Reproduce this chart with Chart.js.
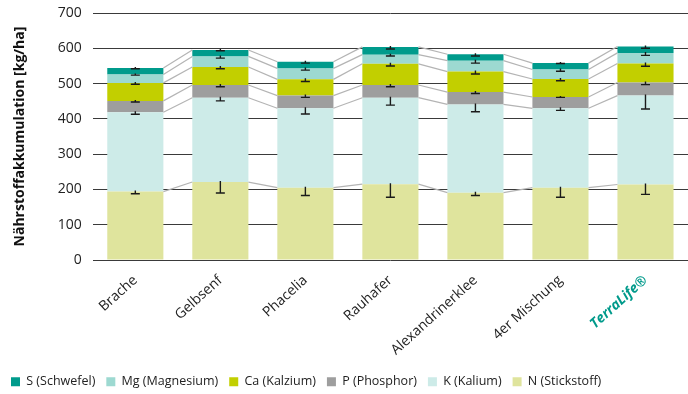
<!DOCTYPE html>
<html>
<head>
<meta charset="utf-8">
<script src="https://cdn.jsdelivr.net/npm/chart.js@4"></script>
<style>
  html, body { margin: 0; padding: 0; background: #fff; }
  #wrap { width: 688px; height: 394px; }
</style>
</head>
<body>
<div id="wrap"><canvas id="myChart" width="688" height="394"></canvas></div>
<script>
const chart = document.getElementById("myChart");

const varianten = ["Brache", "Gelbsenf", "Phacelia", "Rauhafer", "Alexandrinerklee", "4er Mischung", "TerraLife®"];

// kg/ha je Naehrstoff (Segmente, von unten nach oben)
const stickstoff = [194, 221, 205, 215, 191, 205, 214];
const kalium     = [225, 239, 225, 245, 250, 225, 252];
const phosphor   = [32, 36, 36, 36, 35, 32, 37];
const kalzium    = [51, 51, 46, 60, 58, 51, 54];
const magnesium  = [24, 30, 31, 26, 31, 27, 30];
const schwefel   = [18, 18, 19, 22, 18, 18, 18];

// Standardabweichung (nur nach unten gezeichnet)
const fehlerN  = [6, 31, 22, 37, 8, 27, 28];
const fehlerK  = [6, 9, 16, 21, 21, 6, 38];
const fehlerP  = [3, 5, 5, 5, 4, 1, 6];
const fehlerCa = [4, 5, 6, 6, 7, 5, 8];
const fehlerMg = [2, 5, 5, 4, 7, 5, 7];
const fehlerS  = [2, 2, 4, 6, 5, 1, 5];

const yTicks = [0, 100, 200, 300, 400, 500, 600, 700];

const schrift = "'Open Sans', sans-serif";
const teal = "#009a8b";

// Verbindungslinien + Fehlerbalken
const extras = {
  id: "extras",
  afterDatasetsDraw(c) {
    const ctx = c.ctx;
    const y = c.scales.y;
    const n = c.data.labels.length;
    ctx.save();
    ctx.strokeStyle = "#b4b4b4";
    ctx.lineWidth = 1.2;
    c.data.datasets.forEach((ds, di) => {
      const meta = c.getDatasetMeta(di);
      for (let i = 0; i < n - 1; i++) {
        const a = meta.data[i], b = meta.data[i + 1];
        ctx.beginPath();
        ctx.moveTo(a.x + a.width / 2, a.y);
        ctx.lineTo(b.x - b.width / 2, b.y);
        ctx.stroke();
      }
    });
    ctx.strokeStyle = "#1a1a1a";
    ctx.lineWidth = 1.4;
    c.data.datasets.forEach((ds, di) => {
      const meta = c.getDatasetMeta(di);
      meta.data.forEach((bar, i) => {
        const err = ds.fehler[i];
        const top = bar.y;
        const low = top + (y.getPixelForValue(0) - y.getPixelForValue(err));
        ctx.beginPath();
        ctx.moveTo(bar.x, top - 1);
        ctx.lineTo(bar.x, low);
        ctx.moveTo(bar.x - 4.5, low);
        ctx.lineTo(bar.x + 4.5, low);
        ctx.stroke();
      });
    });
    ctx.restore();
  },
};

new Chart(chart, {
  type: "bar",
  data: {
    labels: varianten,
    datasets: [
      { label: "N (Stickstoff)", data: stickstoff, fehler: fehlerN, backgroundColor: "#dfe49d" },
      { label: "K (Kalium)", data: kalium, fehler: fehlerK, backgroundColor: "#cdebe8" },
      { label: "P (Phosphor)", data: phosphor, fehler: fehlerP, backgroundColor: "#9e9e9e" },
      { label: "Ca (Kalzium)", data: kalzium, fehler: fehlerCa, backgroundColor: "#c2cf00" },
      { label: "Mg (Magnesium)", data: magnesium, fehler: fehlerMg, backgroundColor: "#9dd9d1" },
      { label: "S (Schwefel)", data: schwefel, fehler: fehlerS, backgroundColor: "#009b8c" },
    ],
  },
  options: {
    responsive: false,
    animation: false,
    layout: { padding: { left: 0, right: 0, top: 0, bottom: -4 } },
    datasets: { bar: { barPercentage: 0.66, categoryPercentage: 1.0, borderWidth: 0 } },
    scales: {
      x: {
        stacked: true,
        grid: { display: false },
        border: { display: false },
        afterFit: (s) => { s.height += 2; },
        ticks: {
          maxRotation: 42,
          minRotation: 42,
          padding: 4,
          color: (c) => (c.index === 6 ? teal : "#222"),
          font: (c) => (c.index === 6
            ? { family: schrift, size: 14, weight: "bold", style: "italic" }
            : { family: schrift, size: 14 }),
        },
      },
      y: {
        stacked: true,
        min: 0,
        max: 700,
        afterBuildTicks: (s) => { s.ticks = yTicks.map((v) => ({ value: v })); },
        afterFit: (s) => { s.paddingTop = 13; },
        grid: { color: "#3a3a3a", lineWidth: 1, drawTicks: false },
        border: { display: false },
        ticks: { padding: 11, color: "#222", font: { family: schrift, size: 14 } },
        title: {
          display: true,
          text: "Nährstoffakkumulation [kg/ha]",
          color: "#111",
          padding: { top: 12, bottom: 18 },
          font: { family: schrift, size: 14, weight: "bold" },
        },
      },
    },
    plugins: {
      legend: {
        position: "bottom",
        align: "start",
        reverse: true,
        labels: {
          boxWidth: 9,
          boxHeight: 9,
          padding: 11,
          color: "#222",
          font: { family: schrift, size: 12.5 },
        },
      },
      tooltip: { enabled: false },
    },
  },
  plugins: [extras],
});
</script>
</body>
</html>
